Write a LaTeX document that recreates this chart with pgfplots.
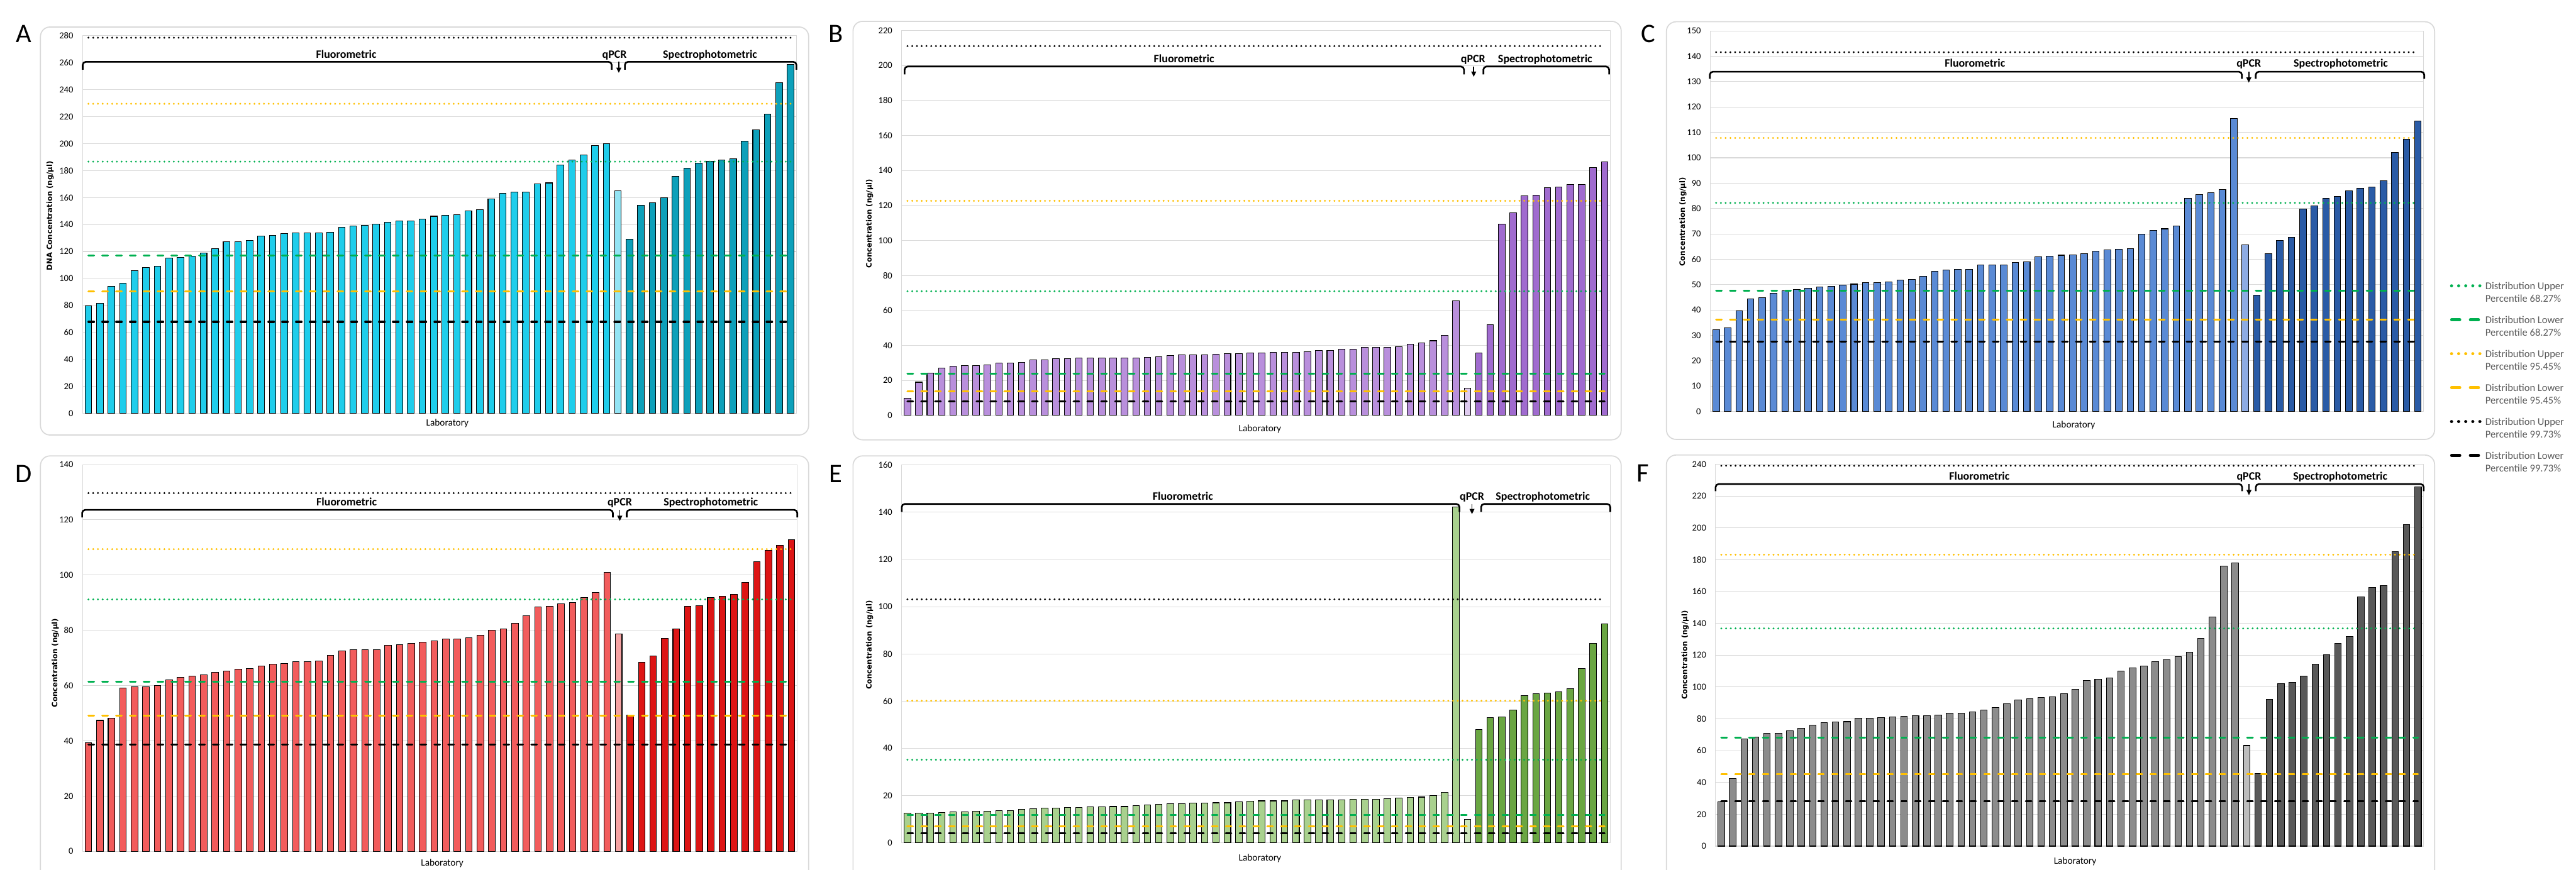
\documentclass[border=0pt]{standalone}
\usepackage{fontspec}
\setmainfont{Carlito}
\newfontfamily\dv{DejaVu Sans}
\usepackage{pgfplots}
\pgfplotsset{compat=1.18}
\usetikzlibrary{arrows.meta}
\definecolor{Afl}{HTML}{1FCDEB}\definecolor{Aq}{HTML}{94E4F4}\definecolor{Asp}{HTML}{0DA0BA}
\definecolor{Bfl}{HTML}{B98FDC}\definecolor{Bq}{HTML}{DFCBEF}\definecolor{Bsp}{HTML}{A06BCF}
\definecolor{Cfl}{HTML}{5A8AD5}\definecolor{Cq}{HTML}{8DABE3}\definecolor{Csp}{HTML}{2A5BA6}
\definecolor{Dfl}{HTML}{F25C5C}\definecolor{Dq}{HTML}{F5A3A3}\definecolor{Dsp}{HTML}{DD1515}
\definecolor{Efl}{HTML}{A9D18E}\definecolor{Eq}{HTML}{CCE5BB}\definecolor{Esp}{HTML}{6AA642}
\definecolor{Ffl}{HTML}{8C8C8C}\definecolor{Fq}{HTML}{BDBDBD}\definecolor{Fsp}{HTML}{595959}
\definecolor{lgreen}{HTML}{00B050}\definecolor{lyel}{HTML}{FFC000}
\definecolor{gridgrey}{HTML}{D9D9D9}\definecolor{legtext}{HTML}{595959}
\tikzset{
 dotK/.style={draw=black, line width=0.47mm, dash pattern=on 0mm off 1.09mm, line cap=round},
 dotY/.style={dotK, draw=lyel},
 dotG/.style={dotK, draw=lgreen},
 dashK/.style={draw=black, line width=0.44mm, dash pattern=on 1.28mm off 1.9mm, line cap=round},
 dashY/.style={dashK, draw=lyel},
 dashG/.style={dashK, draw=lgreen},
 brkst/.style={draw=black, line width=0.38mm, rounded corners=0.7mm},
 arrst/.style={draw=black, line width=0.25mm, -{Triangle[length=1.2mm,width=1.1mm]}},
 grp/.style={font=\fontsize{7.4}{8}\selectfont\bfseries, anchor=base, yshift=-0.84mm, inner sep=0pt},
 ylab/.style={rotate=90, font=\dv\bfseries\fontsize{4.8}{5}\selectfont},
 xlab/.style={font=\fontsize{6.3}{7}\selectfont},
 letter/.style={font=\fontsize{17.5}{18}\selectfont},
 leg/.style={anchor=west, align=left, font=\fontsize{6.8}{8.2}\selectfont, text=legtext, inner sep=0pt},
}
\pgfplotsset{
 panel/.style={
  scale only axis, anchor=south west,
  xmin=0.5, xmax=62.5, ymin=0, enlargelimits=false,
  ybar, /pgf/bar width=0.58,
  xtick=\empty, major tick length=0pt,
  ymajorgrids, grid style={draw=gridgrey, line width=0.15mm},
  axis line style={draw=gridgrey, line width=0.15mm},
  yticklabel style={font=\fontsize{6}{7}\selectfont, inner sep=0pt, xshift=-2.1mm},
  /pgf/number format/assume math mode=true,
  clip=false,
 },
 fl/.style={fill=#1, draw=black, line width=0.15mm, /pgf/bar shift=0pt},
}
\newcommand\reflines[6]{%
 \addplot[sharp plot, dotK] coordinates {(1,#1) (62,#1)};
 \addplot[sharp plot, dotY] coordinates {(1,#2) (62,#2)};
 \addplot[sharp plot, dotG] coordinates {(1,#3) (62,#3)};
 \addplot[sharp plot, dashG] coordinates {(1,#4) (62,#4)};
 \addplot[sharp plot, dashY] coordinates {(1,#5) (62,#5)};
 \addplot[sharp plot, dashK] coordinates {(1,#6) (62,#6)};
}
\newcommand\brk[4]{\draw[brkst] (axis cs:#1,#3) -- (axis cs:#1,#4) -- (axis cs:#2,#4) -- (axis cs:#2,#3);}
\begin{document}
\begin{tikzpicture}
\useasboundingbox (0,0) rectangle (591.9mm,-199.9mm);
\begin{scope}[x=0.1mm,y=-0.1mm]
 \draw[gridgrey, line width=0.25mm, rounded corners=2.2mm] (93,62) rectangle (1858,1000);
 \draw[gridgrey, line width=0.25mm, rounded corners=2.2mm] (1960,49) rectangle (3725,1011);
 \draw[gridgrey, line width=0.25mm, rounded corners=2.2mm] (3829,50) rectangle (5594,1010);
 \draw[gridgrey, line width=0.25mm, rounded corners=2.2mm] (93,1048) rectangle (1858,2040);
 \draw[gridgrey, line width=0.25mm, rounded corners=2.2mm] (1960,1048) rectangle (3725,2040);
 \draw[gridgrey, line width=0.25mm, rounded corners=2.2mm] (3829,1046) rectangle (5594,2040);
 \node[letter] at (55,78) {A};
 \node[letter] at (1920,78) {B};
 \node[letter] at (3787,78) {C};
 \node[letter] at (55,1089) {D};
 \node[letter] at (1920,1089) {E};
 \node[letter] at (3775,1088) {F};
 \node[ylab] at (115,496) {DNA Concentration (ng/µl)};
 \node[ylab] at (1998,514) {Concentration (ng/µl)};
 \node[ylab] at (3867,510) {Concentration (ng/µl)};
 \node[ylab] at (127,1524) {Concentration (ng/µl)};
 \node[ylab] at (1998,1483) {Concentration (ng/µl)};
 \node[ylab] at (3872,1506) {Concentration (ng/µl)};
 \node[xlab] at (1028,973) {Laboratory};
 \node[xlab] at (2895,986) {Laboratory};
 \node[xlab] at (4765,977) {Laboratory};
 \node[xlab] at (1016,1984) {Laboratory};
 \node[xlab] at (2895,1973) {Laboratory};
 \node[xlab] at (4768,1981) {Laboratory};
 % legend
 \draw[lgreen, line width=0.7mm, line cap=round, dash pattern=on 0mm off 1.625mm] (5633,657) -- (5698,657);
 \node[leg] at (5710,671.5) {Distribution Upper\\Percentile 68.27\%};
 \draw[lgreen, line width=0.65mm, line cap=round, dash pattern=on 1.9mm off 2.4mm] (5633,735) -- (5696,735);
 \node[leg] at (5710,749.5) {Distribution Lower\\Percentile 68.27\%};
 \draw[lyel, line width=0.7mm, line cap=round, dash pattern=on 0mm off 1.625mm] (5633,813) -- (5698,813);
 \node[leg] at (5710,827.5) {Distribution Upper\\Percentile 95.45\%};
 \draw[lyel, line width=0.65mm, line cap=round, dash pattern=on 1.9mm off 2.4mm] (5633,891) -- (5696,891);
 \node[leg] at (5710,905.5) {Distribution Lower\\Percentile 95.45\%};
 \draw[black, line width=0.7mm, line cap=round, dash pattern=on 0mm off 1.625mm] (5633,969) -- (5698,969);
 \node[leg] at (5710,983.5) {Distribution Upper\\Percentile 99.73\%};
 \draw[black, line width=0.65mm, line cap=round, dash pattern=on 1.9mm off 2.4mm] (5633,1047) -- (5696,1047);
 \node[leg] at (5710,1061.5) {Distribution Lower\\Percentile 99.73\%};
\end{scope}

% ---------------- A
\begin{axis}[panel, at={(19mm,-95mm)}, width=164mm, height=86.8mm, ymax=280, ytick={0,20,...,280}]
\addplot[fl=Afl] table[row sep=\\, x expr=\coordindex+1, y=v] {v\\79.5\\81.6\\94.3\\96.6\\106\\107.9\\108.9\\115.1\\115.5\\116.5\\118.8\\122\\127\\127.2\\128\\131.5\\132.1\\133.2\\133.8\\133.8\\133.8\\134.4\\137.9\\138.7\\139.3\\140.2\\141.8\\142.8\\142.8\\144.1\\146.1\\146.9\\147.4\\150.2\\150.8\\158.9\\163\\164\\164.2\\170.2\\170.8\\183.9\\188\\191.7\\198.7\\200\\};
\addplot[fl=Aq] coordinates {(47,165.2)};
\addplot[fl=Asp] table[row sep=\\, x expr=\coordindex+48, y=v] {v\\128.9\\154.1\\156\\159.9\\175.9\\181.7\\185.4\\187\\187.6\\188.9\\201.8\\210\\221.9\\245\\258.5\\};
\reflines{278.5}{229.5}{186.6}{117.1}{90.2}{67.8}
\brk{0.5}{46.45}{254.8}{260.6}
\brk{62.5}{47.6}{254.8}{260.6}
\draw[arrst] (axis cs:47.07,260.6) -- (axis cs:47.07,252.4);
\node[grp] at (axis cs:23.4,266.1) {Fluorometric};
\node[grp] at (axis cs:46.7,266.1) {qPCR};
\node[grp] at (axis cs:55,266.1) {Spectrophotometric};
\end{axis}

% ---------------- B
\begin{axis}[panel, at={(207.2mm,-95.5mm)}, width=162.8mm, height=88.5mm, ymax=220, ytick={0,20,...,220}]
\addplot[fl=Bfl] table[row sep=\\, x expr=\coordindex+1, y=v] {v\\9.8\\19\\24.3\\27\\28.2\\28.4\\28.4\\29\\30\\30\\30.3\\31.9\\31.9\\32.5\\32.5\\32.7\\32.8\\32.8\\33\\33\\33\\33.1\\33.6\\34.3\\34.6\\34.6\\34.7\\35\\35.4\\35.4\\35.7\\35.7\\36\\36.2\\36.2\\36.5\\37.1\\37.3\\37.9\\38\\38.8\\39.1\\39.1\\39.3\\40.9\\41.3\\42.7\\45.9\\65.5\\};
\addplot[fl=Bq] coordinates {(50,15.6)};
\addplot[fl=Bsp] table[row sep=\\, x expr=\coordindex+51, y=v] {v\\35.7\\52\\109.4\\115.8\\125.5\\126\\130.2\\130.4\\132.1\\132.1\\141.8\\144.8\\};
\reflines{211.1}{122.6}{71.0}{24.0}{13.9}{8.0}
\brk{0.75}{49.7}{194.9}{199.4}
\brk{62.4}{51.4}{194.9}{199.4}
\draw[arrst] (axis cs:50.55,199.4) -- (axis cs:50.55,193.5);
\node[grp] at (axis cs:25.2,203.8) {Fluorometric};
\node[grp] at (axis cs:50.5,203.8) {qPCR};
\node[grp] at (axis cs:56.8,203.8) {Spectrophotometric};
\end{axis}

% ---------------- C
\begin{axis}[panel, at={(393mm,-94.6mm)}, width=163.9mm, height=87.5mm, ymax=150, ytick={0,10,...,150}]
\addplot[fl=Cfl] table[row sep=\\, x expr=\coordindex+1, y=v] {v\\32.2\\33.1\\39.7\\44.5\\44.8\\46.6\\47.5\\48.1\\48.6\\49.1\\49.4\\49.9\\50.2\\50.8\\50.8\\51.1\\51.9\\52.1\\53.4\\55.2\\55.8\\56.1\\56.1\\57.7\\57.8\\57.8\\58.8\\59\\60.9\\61.3\\61.6\\61.7\\62.2\\63.3\\63.6\\64\\64.2\\69.9\\71.4\\72\\73\\84\\85.5\\86.3\\87.4\\115.4\\};
\addplot[fl=Cq] coordinates {(47,65.7)};
\addplot[fl=Csp] table[row sep=\\, x expr=\coordindex+48, y=v] {v\\45.8\\62.1\\67.4\\68.6\\79.9\\81\\83.9\\84.8\\87\\88\\88.5\\90.9\\102\\107.2\\114.5\\};
\reflines{141.6}{107.8}{82.2}{47.7}{36.2}{27.5}
\brk{0.45}{46.7}{131.1}{133.9}
\brk{62.55}{47.9}{131.1}{133.9}
\draw[arrst] (axis cs:47.3,133.9) -- (axis cs:47.3,129.6);
\node[grp] at (axis cs:23.5,137.2) {Fluorometric};
\node[grp] at (axis cs:47.3,137.2) {qPCR};
\node[grp] at (axis cs:55.3,137.2) {Spectrophotometric};
\end{axis}

% ---------------- D
\begin{axis}[panel, at={(19mm,-195.7mm)}, width=164.2mm, height=88.9mm, ymax=140, ytick={0,20,...,140}]
\addplot[fl=Dfl] table[row sep=\\, x expr=\coordindex+1, y=v] {v\\39.3\\47.4\\48.1\\59.1\\59.5\\59.6\\60\\62\\63\\63.4\\64\\64.7\\65.3\\65.9\\66.2\\67.1\\67.7\\68\\68.6\\68.7\\68.8\\71\\72.5\\73\\73.1\\73.1\\74.5\\74.9\\75.2\\75.7\\76.2\\76.9\\76.9\\77.3\\78.2\\80\\80.6\\82.5\\85.3\\88.4\\88.7\\89.6\\90\\91.9\\93.8\\101\\};
\addplot[fl=Dq] coordinates {(47,78.7)};
\addplot[fl=Dsp] table[row sep=\\, x expr=\coordindex+48, y=v] {v\\49.3\\68.5\\70.7\\77\\80.5\\88.8\\88.9\\91.8\\92.4\\93.1\\97.3\\104.9\\108.9\\110.8\\112.9\\};
\reflines{129.7}{109.4}{91.2}{61.3}{49.1}{38.7}
\brk{0.45}{46.5}{120.9}{123.6}
\brk{62.5}{47.7}{120.9}{123.6}
\draw[arrst] (axis cs:47.1,123.6) -- (axis cs:47.1,119.6);
\node[grp] at (axis cs:23.4,126.4) {Fluorometric};
\node[grp] at (axis cs:47.1,126.4) {qPCR};
\node[grp] at (axis cs:55,126.4) {Spectrophotometric};
\end{axis}

% ---------------- E
\begin{axis}[panel, at={(207.2mm,-193.7mm)}, width=162.8mm, height=86.8mm, ymax=160, ytick={0,20,...,160}]
\addplot[fl=Efl] table[row sep=\\, x expr=\coordindex+1, y=v] {v\\12.4\\12.5\\12.6\\12.7\\13\\13\\13.4\\13.4\\13.5\\13.6\\14.1\\14.4\\14.7\\14.7\\14.9\\14.9\\15.1\\15.1\\15.3\\15.3\\15.8\\16\\16.3\\16.5\\16.5\\16.7\\16.7\\16.9\\16.9\\17.4\\17.5\\17.7\\17.7\\17.7\\18\\18\\18\\18\\18\\18.3\\18.3\\18.3\\18.7\\19\\19.1\\19.3\\19.9\\21.2\\142.1\\};
\addplot[fl=Eq] coordinates {(50,9.75)};
\addplot[fl=Esp] table[row sep=\\, x expr=\coordindex+51, y=v] {v\\48\\53.1\\53.3\\56.2\\62.3\\63.1\\63.5\\63.8\\65.2\\73.7\\84.4\\92.8\\};
\reflines{103.1}{60.1}{35.1}{11.8}{6.8}{4.0}
\brk{0.5}{49.3}{140.1}{143.5}
\brk{62.5}{51.2}{140.1}{143.5}
\draw[arrst] (axis cs:50.4,143.5) -- (axis cs:50.4,139.2);
\node[grp] at (axis cs:25.1,146.8) {Fluorometric};
\node[grp] at (axis cs:50.4,146.8) {qPCR};
\node[grp] at (axis cs:56.6,146.8) {Spectrophotometric};
\end{axis}

% ---------------- F
\begin{axis}[panel, at={(394.2mm,-194.5mm)}, width=162.7mm, height=87.8mm, ymax=240, ytick={0,20,...,240}]
\addplot[fl=Ffl] table[row sep=\\, x expr=\coordindex+1, y=v] {v\\28\\42.6\\67.2\\68.4\\71\\71\\72.4\\74.2\\76.2\\77.6\\78\\78.2\\80.2\\80.2\\80.6\\81.1\\81.5\\81.8\\82\\82.3\\83.4\\83.7\\84.4\\85.5\\87.2\\89.3\\91.9\\92.8\\93.6\\93.8\\95.7\\98.7\\103.9\\104.8\\105.8\\110\\112.1\\113.1\\116.1\\117\\119.1\\121.7\\130.7\\143.8\\176\\177.9\\};
\addplot[fl=Fq] coordinates {(47,63.2)};
\addplot[fl=Fsp] table[row sep=\\, x expr=\coordindex+48, y=v] {v\\45.8\\92.4\\102.2\\103\\106.7\\114.2\\120.3\\127.2\\131.9\\156.5\\162.7\\163.8\\184.9\\201.9\\225.8\\};
\reflines{239}{183.1}{136.8}{68.2}{45.1}{28.2}
\brk{0.5}{46.6}{223}{227.5}
\brk{62.5}{47.8}{223}{227.5}
\draw[arrst] (axis cs:47.2,227.5) -- (axis cs:47.2,220.5);
\node[grp] at (axis cs:23.6,232.2) {Fluorometric};
\node[grp] at (axis cs:47.2,232.2) {qPCR};
\node[grp] at (axis cs:55.2,232.2) {Spectrophotometric};
\end{axis}
\end{tikzpicture}
\end{document}
